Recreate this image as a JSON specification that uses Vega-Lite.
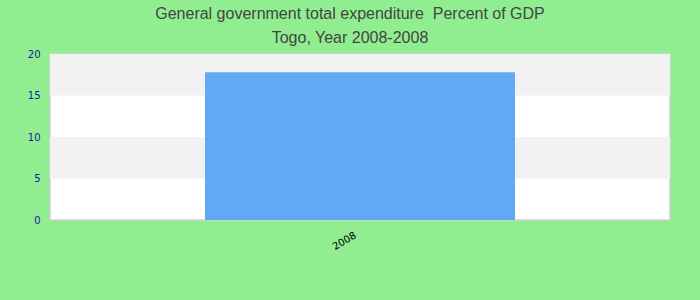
{
  "$schema": "https://vega.github.io/schema/vega-lite/v6.json",
  "width": 620,
  "height": 166,
  "autosize": {"type": "none"},
  "padding": {"left": 50, "top": 54, "right": 30, "bottom": 80},
  "background": "#90EE90",
  "title": {
    "text": ["General government total expenditure\u00a0 Percent of GDP", "Togo, Year 2008-2008"],
    "anchor": "middle",
    "dx": -10,
    "offset": 3,
    "fontSize": 16,
    "lineHeight": 24,
    "font": "Liberation Sans",
    "fontWeight": "normal",
    "color": "#444444"
  },
  "datasets": {
    "gdp": [{"year": "2008", "value": 17.8}],
    "bands": [{"from": 5, "to": 10}, {"from": 15, "to": 20}]
  },
  "layer": [
    {
      "data": {"name": "bands"},
      "mark": {"type": "rect", "color": "#f2f2f2"},
      "encoding": {
        "y": {"field": "from", "type": "quantitative", "scale": {"domain": [0, 20]},
          "axis": {"values": [0, 5, 10, 15, 20], "grid": false, "domain": false, "ticks": false, "labelColor": "#1a1a9a", "labelFont": "DejaVu Sans", "labelFontSize": 10, "labelPadding": 10, "title": null}},
        "y2": {"field": "to"}
      }
    },
    {
      "data": {"name": "gdp"},
      "mark": {"type": "bar", "color": "#61a9f5"},
      "encoding": {
        "x": {"field": "year", "type": "nominal", "scale": {"paddingInner": 0, "paddingOuter": 0.5},
          "axis": {"title": null, "domain": false, "ticks": false, "labelAngle": -30, "labelFont": "DejaVu Sans", "labelFontSize": 10, "labelColor": "#000000", "labelPadding": 10, "labelOffset": -7}},
        "y": {"field": "value", "type": "quantitative", "scale": {"domain": [0, 20]},
          "axis": {"values": [0, 5, 10, 15, 20], "grid": false, "domain": false, "ticks": false, "labelColor": "#1a1a9a", "labelFont": "DejaVu Sans", "labelFontSize": 10, "labelPadding": 10, "title": null}}
      }
    }
  ],
  "config": {"view": {"fill": "white", "stroke": "#d0d0d0", "strokeWidth": 1.5}}
}
